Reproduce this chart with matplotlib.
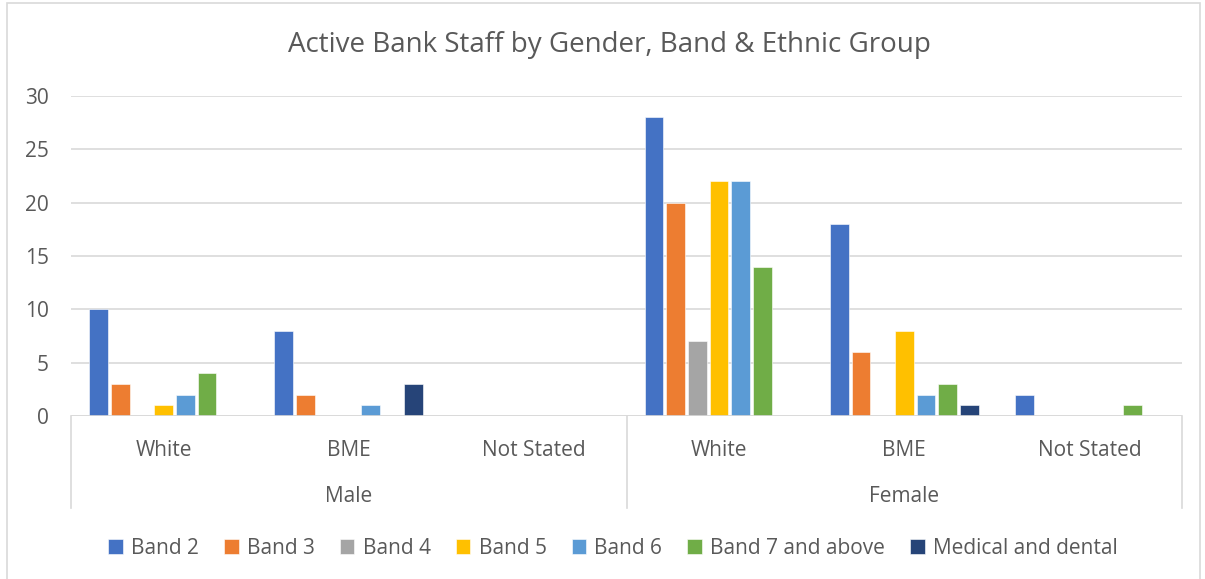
import matplotlib
matplotlib.use("Agg")
import matplotlib.pyplot as plt
import numpy as np
from matplotlib.patches import Rectangle
from matplotlib.lines import Line2D

plt.rcParams['font.family'] = ['Open Sans', 'DejaVu Sans']

genders = ["Male", "Female"]
ethnic = ["White", "BME", "Not Stated"]
series = ["Band 2", "Band 3", "Band 4", "Band 5", "Band 6", "Band 7 and above", "Medical and dental"]
colors = ["#4472C4", "#ED7D31", "#A5A5A5", "#FFC000", "#5B9BD5", "#70AD47", "#264478"]

# values per group: Male White, Male BME, Male Not Stated, Female White, Female BME, Female Not Stated
band2 = [10, 8, 0, 28, 18, 2]
band3 = [3, 2, 0, 20, 6, 0]
band4 = [0, 0, 0, 7, 0, 0]
band5 = [1, 0, 0, 22, 8, 0]
band6 = [2, 1, 0, 22, 2, 0]
band7 = [4, 0, 0, 14, 3, 1]
medical = [0, 3, 0, 0, 1, 0]
values = [band2, band3, band4, band5, band6, band7, medical]

W, H = 1205, 579
fig = plt.figure(figsize=(W / 100, H / 100), dpi=100)
ax = fig.add_axes([71 / W, 1 - 416 / H, (1182 - 71) / W, (416 - 96) / H])

n = len(series)
ng = len(genders) * len(ethnic)
x = np.arange(ng)
step = 0.117
bw = 0.1
for i, (name, vals, c) in enumerate(zip(series, values, colors)):
    ax.bar(x + (i - (n - 1) / 2) * step, vals, width=bw, color=c, label=name,
           edgecolor="white", linewidth=0.4, zorder=3)

ax.set_xlim(-0.5, ng - 0.5)
ax.set_ylim(0, 30)
ax.set_yticks(range(0, 31, 5))
ax.yaxis.grid(True, color="#D9D9D9", linewidth=1.2, zorder=0)
ax.tick_params(axis="y", length=0, labelsize=15, labelcolor="#595959", pad=16)
ax.set_xticks([])
for s in ax.spines.values():
    s.set_visible(False)
ax.axhline(0, color="#D9D9D9", linewidth=1.2, zorder=4)

# multi-level category axis
tr = ax.get_xaxis_transform()
px = 1 / (416 - 96)  # axes fraction per pixel
for xb in [-0.5, 2.5, 5.5]:
    ax.add_line(Line2D([xb, xb], [0, -(508 - 416) * px], transform=tr, color="#D9D9D9",
                       linewidth=1.2, clip_on=False))
k = 0
for gi, g in enumerate(genders):
    for e in ethnic:
        ax.text(k, -(450 - 416) * px, e, transform=tr, ha="center", va="center",
                fontsize=15, color="#595959")
        k += 1
    ax.text(gi * 3 + 1, -(496 - 416) * px, g, transform=tr, ha="center", va="center",
            fontsize=15, color="#595959")

fig.text(609 / W, 1 - 45 / H, "Active Bank Staff by Gender, Band & Ethnic Group",
         ha="center", va="center", fontsize=20, color="#595959")

leg = fig.legend(loc="center", bbox_to_anchor=(613 / W, 1 - 548 / H), ncol=7, frameon=False,
                 fontsize=15, labelcolor="#595959", handlelength=0.7, handleheight=0.7,
                 handletextpad=0.4, columnspacing=1.2)

fig.patches.append(Rectangle((7 / W, -0.1), (1200 - 7) / W, 1.1 - 3 / H, transform=fig.transFigure,
                             fill=False, edgecolor="#D9D9D9", linewidth=1.2))

fig.savefig("out.png", dpi=100)
